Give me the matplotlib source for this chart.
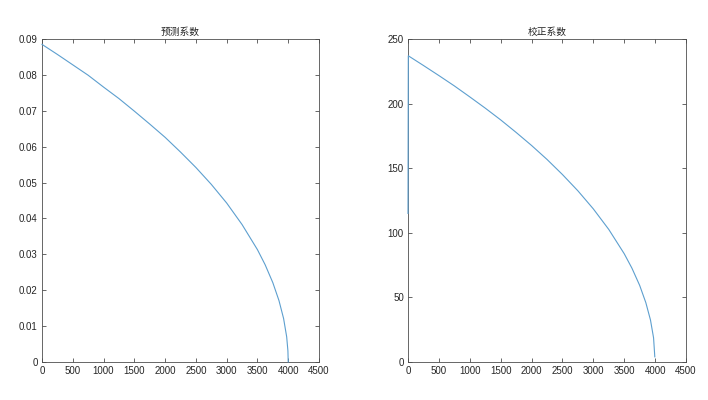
import matplotlib
matplotlib.use("Agg")
import matplotlib.pyplot as plt

plt.rcParams['font.family'] = ['Liberation Sans', 'Noto Sans CJK SC', 'DejaVu Sans']

# Left panel: 预测系数
x_pred = [0, 250, 500, 750, 1000, 1250, 1500, 1750, 2000, 2250, 2500, 2750,
          3000, 3250, 3500, 3625, 3750, 3850, 3925, 3975, 3995, 4000]
y_pred = [0.0885, 0.0857, 0.0828, 0.0799, 0.0766, 0.0734, 0.0699, 0.0663,
          0.0626, 0.0585, 0.0542, 0.0495, 0.0443, 0.0383, 0.0313, 0.0271,
          0.0221, 0.0171, 0.0121, 0.0070, 0.0031, 0.0]

# Right panel: 校正系数
x_corr = [0, 5, 250, 500, 750, 1000, 1250, 1500, 1750, 2000, 2250, 2500, 2750,
          3000, 3250, 3500, 3625, 3750, 3850, 3925, 3975, 3995]
y_corr = [115, 237, 229.5, 221.7, 213.7, 205.2, 196.5, 187.4, 177.7, 167.6,
          156.8, 145.1, 132.5, 118.5, 102.6, 83.8, 72.6, 59.3, 45.9, 32.5,
          18.7, 4]

x_ticks = [0, 500, 1000, 1500, 2000, 2500, 3000, 3500, 4000, 4500]
y_ticks_pred = [0, 0.01, 0.02, 0.03, 0.04, 0.05, 0.06, 0.07, 0.08, 0.09]
y_ticklabels_pred = ['0', '0.01', '0.02', '0.03', '0.04', '0.05', '0.06', '0.07', '0.08', '0.09']
y_ticks_corr = [0, 50, 100, 150, 200, 250]

titles = ['预测系数', '校正系数']

line_color = '#5d9fcf'
axis_color = '#4d4d4d'
text_color = '#262626'

fig = plt.figure(figsize=(7.08, 4.0), dpi=100)
ax1 = fig.add_axes([42/708, 1-362/400, (319-42)/708, (362-39)/400])
ax2 = fig.add_axes([408/708, 1-362/400, (686-408)/708, (362-39)/400])

for ax in (ax1, ax2):
    ax.set_xlim(0, 4500)
    ax.set_xticks(x_ticks)
    ax.set_xticklabels([str(v) for v in x_ticks])
    ax.tick_params(direction='in', length=3, width=0.6, colors=axis_color,
                   labelcolor=text_color, labelsize=7, top=True, right=True, pad=3)
    for s in ax.spines.values():
        s.set_color(axis_color)
        s.set_linewidth(0.6)

ax1.plot(x_pred, y_pred, color=line_color, lw=0.8, zorder=5, clip_on=False)
ax1.set_ylim(0, 0.09)
ax1.set_yticks(y_ticks_pred)
ax1.set_yticklabels(y_ticklabels_pred)
ax1.set_title(titles[0], fontsize=7, color=text_color, pad=3)

ax2.plot(x_corr, y_corr, color=line_color, lw=0.8, zorder=5, clip_on=False)
ax2.set_ylim(0, 250)
ax2.set_yticks(y_ticks_corr)
ax2.set_yticklabels([str(v) for v in y_ticks_corr])
ax2.set_title(titles[1], fontsize=7, color=text_color, pad=3)

fig.savefig('out.png', dpi=100)
